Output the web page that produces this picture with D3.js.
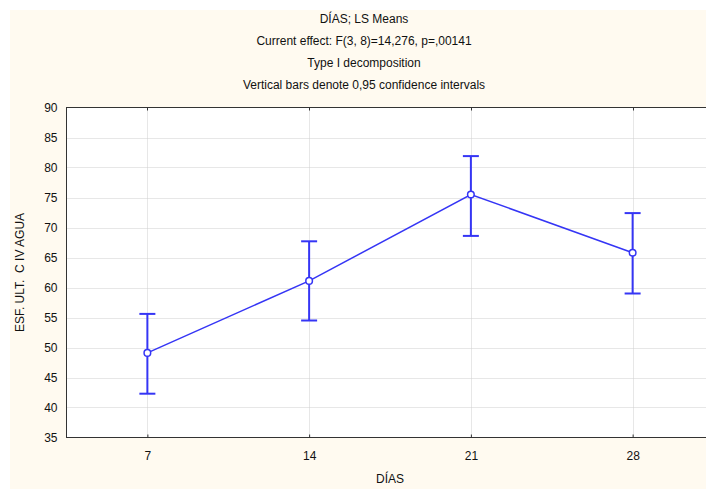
<!DOCTYPE html>
<html>
<head>
<meta charset="utf-8">
<script src="https://cdn.jsdelivr.net/npm/d3@7"></script>
<style>
	body{margin:0;background:#fff;}
	text{font-family:'Liberation Sans',Arial,sans-serif;font-size:12px;fill:#111;}
</style>
</head>
<body>
<div id="plot"></div>
<script>
//Data
var days = [7,14,21,28];
var means = [49.1,61.1,75.5,65.8];
var upper = [55.6,67.7,81.9,72.4];
var lower = [42.3,54.5,68.6,59.0];
var yTicks = [35,40,45,50,55,60,65,70,75,80,85,90];
var titleLines = ['DÍAS; LS Means','Current effect: F(3, 8)=14,276, p=,00141','Type I decomposition','Vertical bars denote 0,95 confidence intervals'];

var W = 706, H = 489;
var m = {t:107.5,l:66.5,b:437.5,r:713.5};

var svg = d3.select('#plot').append('svg')
	.attr('width',W).attr('height',H);

//cream panel
svg.append('rect').attr('x',10).attr('y',10).attr('width',W).attr('height',H)
	.style('fill','#fffaf0');

var x = d3.scaleLinear().domain([3.5,31.5]).range([m.l,m.r]),
	y = d3.scaleLinear().domain([35,90]).range([m.b,m.t]);

//plot area
svg.append('rect').attr('x',m.l).attr('y',m.t)
	.attr('width',m.r-m.l).attr('height',m.b-m.t)
	.style('fill','#fff');

//grid
svg.selectAll('.hgrid').data(yTicks.slice(1,-1)).enter().append('line')
	.attr('x1',m.l).attr('x2',m.r)
	.attr('y1',function(d){return Math.round(y(d))+0.5})
	.attr('y2',function(d){return Math.round(y(d))+0.5})
	.style('stroke','#cfcfcf').style('stroke-dasharray','1,1');
svg.selectAll('.vgrid').data(days).enter().append('line')
	.attr('y1',m.t).attr('y2',m.b)
	.attr('x1',function(d){return Math.round(x(d))+0.5})
	.attr('x2',function(d){return Math.round(x(d))+0.5})
	.style('stroke','#cfcfcf').style('stroke-dasharray','1,1');

//frame
svg.append('rect').attr('x',m.l).attr('y',m.t)
	.attr('width',m.r-m.l).attr('height',m.b-m.t)
	.style('fill','none').style('stroke','#333').style('stroke-width',1);

//axes
var yAxis = d3.axisLeft(y).tickValues(yTicks).tickSize(0).tickPadding(9);
svg.append('g').attr('transform','translate('+m.l+',0)').call(yAxis)
	.call(function(g){g.select('.domain').remove()})
	.selectAll('text').style('font-size','12px').style('font-family','Liberation Sans, Arial, sans-serif');

var xAxis = d3.axisBottom(x).tickValues(days).tickSize(-3).tickPadding(14);
svg.append('g').attr('transform','translate(0,'+m.b+')').call(xAxis)
	.call(function(g){g.select('.domain').remove()})
	.call(function(g){g.selectAll('line').style('stroke','#333')})
	.selectAll('text').style('font-size','12px').style('font-family','Liberation Sans, Arial, sans-serif');

svg.append('g').selectAll('line').data(days).enter().append('line')
	.attr('x1',function(d){return Math.round(x(d))+0.5})
	.attr('x2',function(d){return Math.round(x(d))+0.5})
	.attr('y1',m.t).attr('y2',m.t+3)
	.style('stroke','#333');

//titles
svg.selectAll('.title').data(titleLines).enter().append('text')
	.attr('x',364).attr('y',function(d,i){return 23+i*22})
	.attr('text-anchor','middle')
	.text(function(d){return d});

svg.append('text').attr('x',390).attr('y',483).attr('text-anchor','middle').text('DÍAS');
svg.append('text').attr('transform','translate(24,'+((m.t+m.b)/2)+') rotate(-90)')
	.attr('text-anchor','middle').text('ESF. ULT.\u00a0 C IV AGUA');

//series
var blue = '#3535f5';
var pts = days.map(function(d,i){return {x:d,m:means[i],u:upper[i],l:lower[i]}});

var line = d3.line().x(function(d){return x(d.x)}).y(function(d){return y(d.m)});
svg.append('path').datum(pts).attr('d',line)
	.style('fill','none').style('stroke',blue).style('stroke-width',1.5);

var eb = svg.append('g').selectAll('g').data(pts).enter().append('g');
eb.append('line')
	.attr('x1',function(d){return x(d.x)}).attr('x2',function(d){return x(d.x)})
	.attr('y1',function(d){return y(d.u)}).attr('y2',function(d){return y(d.l)})
	.style('stroke',blue).style('stroke-width',2);
eb.selectAll('.cap').data(function(d){return [{x:d.x,v:d.u},{x:d.x,v:d.l}]}).enter().append('line')
	.attr('x1',function(d){return x(d.x)-8}).attr('x2',function(d){return x(d.x)+8})
	.attr('y1',function(d){return y(d.v)}).attr('y2',function(d){return y(d.v)})
	.style('stroke',blue).style('stroke-width',2);

svg.append('g').selectAll('circle').data(pts).enter().append('circle')
	.attr('cx',function(d){return x(d.x)}).attr('cy',function(d){return y(d.m)})
	.attr('r',3.3)
	.style('fill','#fff').style('stroke',blue).style('stroke-width',1.5);
</script>
</body>
</html>
